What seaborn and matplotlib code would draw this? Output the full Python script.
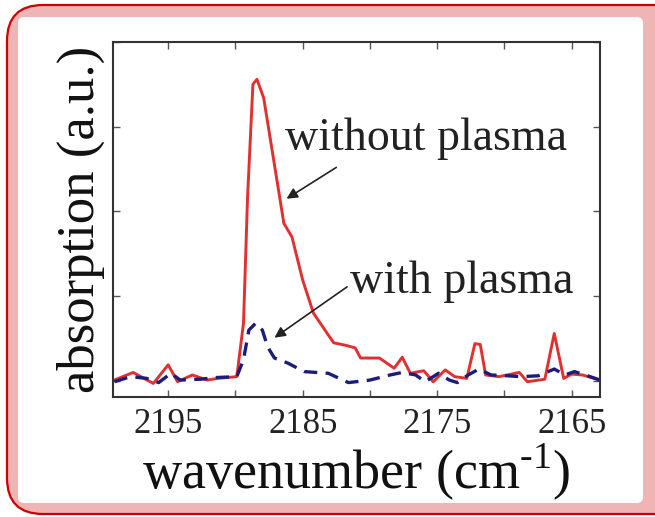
import matplotlib
matplotlib.use("Agg")
import matplotlib.pyplot as plt
from matplotlib.patches import FancyBboxPatch
import seaborn as sns
import pandas as pd

# ---- data ----
wn_without = [2199.0, 2197.6, 2196.1, 2195.0, 2194.3, 2193.2, 2192.1, 2191.3, 2189.9,
              2189.4, 2189.1, 2188.7, 2188.4, 2187.9, 2187.3, 2186.4, 2185.8, 2185.0,
              2184.2, 2182.7, 2181.8, 2181.1, 2180.7, 2179.3, 2178.2, 2177.6, 2177.0,
              2176.0, 2175.3, 2174.4, 2173.7, 2172.8, 2172.2, 2171.8, 2171.4, 2170.4,
              2168.9, 2168.3, 2167.0, 2166.3, 2165.6, 2165.0, 2164.2, 2162.9]
abs_without = [0.01, 0.10, -0.03, 0.19, -0.01, 0.07, 0.01, 0.03, 0.05,
               0.68, 2.16, 3.50, 3.56, 3.34, 2.75, 1.86, 1.70, 1.19,
               0.80, 0.45, 0.42, 0.39, 0.27, 0.27, 0.15, 0.28, 0.09,
               0.12, -0.01, 0.13, 0.05, 0.03, 0.44, 0.43, 0.07, 0.05,
               0.10, -0.01, 0.02, 0.56, 0.03, 0.08, 0.07, 0.01]

wn_with = [2199.0, 2197.8, 2196.6, 2195.7, 2194.8, 2194.1, 2192.6, 2191.4, 2189.9,
           2189.4, 2189.0, 2188.5, 2188.0, 2187.6, 2187.1, 2186.1, 2184.9, 2183.1,
           2181.6, 2180.0, 2178.5, 2177.6, 2176.6, 2175.9, 2174.9, 2174.1, 2173.5,
           2172.7, 2171.9, 2171.0, 2169.7, 2168.8, 2167.5, 2166.3, 2165.5, 2164.8,
           2164.0, 2162.9]
abs_with = [-0.01, 0.05, 0.03, -0.02, 0.09, 0.01, 0.02, 0.04, 0.05,
            0.25, 0.60, 0.68, 0.60, 0.40, 0.27, 0.21, 0.11, 0.09,
            -0.02, 0.01, 0.07, 0.10, 0.07, -0.01, 0.09, 0.01, -0.02,
            0.07, 0.14, 0.07, 0.06, 0.05, 0.06, 0.14, 0.07, 0.11,
            0.07, 0.01]

x_ticks = [2195, 2190, 2185, 2180, 2175, 2170, 2165]
x_ticklabels = ["2195", "", "2185", "", "2175", "", "2165"]
y_ticks = [0, 1, 2, 3, 4]

label_without = "without plasma"
label_with = "with plasma"
xlabel = "wavenumber (cm$^{\\text{-1}}$)"
ylabel = "absorption (a.u.)"

sns.set_theme(style="white")
plt.rcParams["font.family"] = ["Liberation Serif", "DejaVu Serif"]
plt.rcParams["mathtext.fontset"] = "custom"
plt.rcParams["mathtext.rm"] = "Liberation Serif"

W, H = 655, 517
fig = plt.figure(figsize=(W / 100, H / 100), dpi=100)
fig.patch.set_facecolor("white")

# decorative frame
bg = fig.add_axes([0, 0, 1, 1], zorder=0)
bg.set_xlim(0, W)
bg.set_ylim(H, 0)
bg.axis("off")
bg.add_patch(FancyBboxPatch((7, 5), 690, 509, boxstyle="round,pad=0,rounding_size=36",
                            facecolor="#efb4b4", edgecolor="#cc0000", lw=1.6))
bg.add_patch(FancyBboxPatch((18, 17), 625, 486, boxstyle="round,pad=0,rounding_size=6",
                            facecolor="white", edgecolor="none"))

ax = fig.add_axes([113 / W, 1 - 397 / H, (600 - 113) / W, (397 - 42) / H], zorder=2)
ax.set_facecolor("white")

df1 = pd.DataFrame({"wn": wn_without, "a": abs_without})
df2 = pd.DataFrame({"wn": wn_with, "a": abs_with})
sns.lineplot(data=df1, x="wn", y="a", ax=ax, color="#e03030", lw=2.1)
sns.lineplot(data=df2, x="wn", y="a", ax=ax, color="#1c1c7a", lw=2.4,
             linestyle=(0, (4, 2.5)))

ax.set_xlim(2199.1, 2162.9)
ax.set_ylim(-0.19, 4.0)
ax.set_xticks(x_ticks)
ax.set_xticklabels(x_ticklabels)
ax.set_yticks(y_ticks)
ax.set_yticklabels([])
ax.tick_params(axis="both", direction="in", length=5, width=1, color="#555555",
               top=True, right=True, bottom=True, left=True)
ax.tick_params(axis="x", labelsize=25, pad=8, labelcolor="#222222")
for s in ax.spines.values():
    s.set_color("#333333")
    s.set_linewidth(1.5)

ax.set_xlabel(xlabel, fontsize=39, color="#111111", labelpad=0)
ax.set_ylabel(ylabel, fontsize=38, color="#111111", labelpad=2)

arrow = dict(arrowstyle="-|>", color="#222222", lw=1.2, mutation_scale=16,
             shrinkA=0, shrinkB=0)
ax.annotate("", xy=(2186.2, 2.15), xytext=(2182.5, 2.52), arrowprops=arrow)
ax.annotate("", xy=(2187.1, 0.51), xytext=(2181.7, 1.11), arrowprops=arrow)
ax.text(2186.3, 2.72, label_without, fontsize=33, color="#222222",
        ha="left", va="baseline")
ax.text(2181.5, 1.04, label_with, fontsize=33, color="#222222",
        ha="left", va="baseline")

fig.savefig("out.png", dpi=100, facecolor="white")
